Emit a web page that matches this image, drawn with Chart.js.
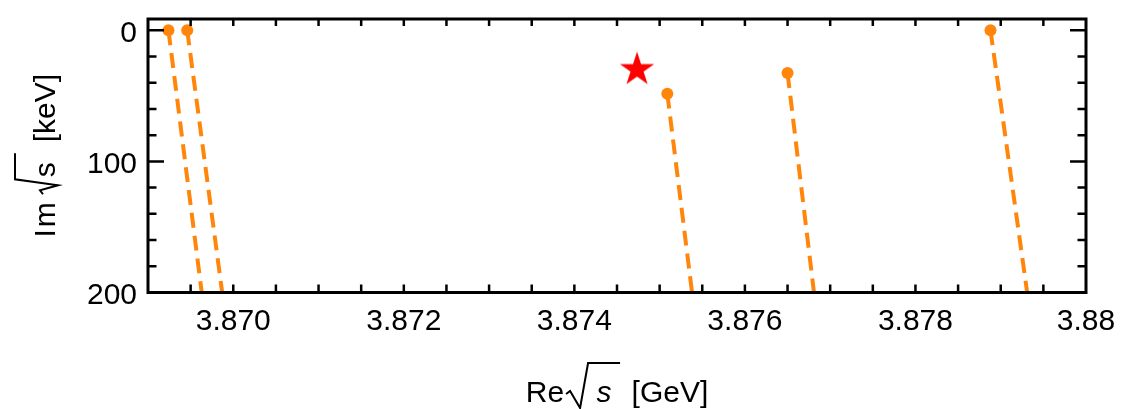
<!DOCTYPE html>
<html>
<head>
<meta charset="utf-8">
<title>Pole trajectories</title>
<script src="https://cdn.jsdelivr.net/npm/chart.js@4.4.1/dist/chart.umd.min.js"></script>
<style>
  html, body { margin: 0; padding: 0; background: #fff; }
  canvas { display: block; }
</style>
</head>
<body>
<canvas id="poleChart" width="1122" height="409"></canvas>
<script>
// pole positions: Re sqrt(s) in GeV, Im sqrt(s) in keV
const poleRe = [3.86924, 3.86946, 3.87509, 3.87650, 3.87888];
const poleIm = [0, 0, 48.4, 32.6, 0];
// where each trajectory leaves the frame
const trajEndRe = [3.86963, 3.86987, 3.87538, 3.87681, 3.87931];
const trajEndIm = [200, 200, 200, 200, 200];
// red star
const starRe = [3.874735];
const starIm = [30];

// axes
const xRange = [3.869, 3.880];
const yRange = [-8.6, 200];
const xTickValues = [3.870, 3.872, 3.874, 3.876, 3.878, 3.880];
const xTickLabels = ["3.870", "3.872", "3.874", "3.876", "3.878", "3.88"];
const xMinorStep = 0.0005;
const yTickValues = [0, 100, 200];
const yTickLabels = ["0", "100", "200"];
const yMinorStep = 20;

const ORANGE = "rgb(255,134,10)";
const FONT = "'Liberation Sans', Arial, Helvetica, sans-serif";
const FS = 30;

// filled 5 point star used as point style
function makeStar(r, color) {
  const size = Math.ceil(r * 2 + 2);
  const c = document.createElement("canvas");
  c.width = size;
  c.height = size;
  const g = c.getContext("2d");
  g.beginPath();
  for (let i = 0; i < 10; i++) {
    const rad = i % 2 === 0 ? r : r * 0.382;
    const a = -Math.PI / 2 + i * Math.PI / 5;
    g.lineTo(size / 2 + rad * Math.cos(a), size / 2 + rad * Math.sin(a));
  }
  g.closePath();
  g.fillStyle = color;
  g.fill();
  return c;
}

// frame with inward ticks on all four sides
const frameAndTicks = {
  id: "frameAndTicks",
  afterDraw(chart) {
    const { ctx, chartArea: a, scales: { x, y } } = chart;
    ctx.save();
    ctx.strokeStyle = "#000";
    ctx.lineWidth = 2.5;
    ctx.beginPath();
    const nx = Math.round((xRange[1] - xRange[0]) / xMinorStep);
    for (let i = 1; i < nx; i++) {
      const px = x.getPixelForValue(xRange[0] + i * xMinorStep);
      ctx.moveTo(px, a.bottom); ctx.lineTo(px, a.bottom - 8);
      ctx.moveTo(px, a.top); ctx.lineTo(px, a.top + 7);
    }
    for (let v = 0; v <= 200; v += yMinorStep) {
      const py = y.getPixelForValue(v);
      const len = v % 100 === 0 ? 16 : 8.5;
      ctx.moveTo(a.left, py); ctx.lineTo(a.left + len, py);
      ctx.moveTo(a.right, py); ctx.lineTo(a.right - len, py);
    }
    ctx.stroke();
    ctx.lineWidth = 3;
    ctx.strokeRect(a.left, a.top, a.right - a.left, a.bottom - a.top);
    ctx.restore();
  }
};

// "Re sqrt(s) [GeV]" style titles, radical drawn by hand
function drawRadicalTitle(ctx, prefix, suffix, italicS, geo) {
  const plain = FS + "px " + FONT;
  const sFont = (italicS ? "italic " : "") + plain;
  ctx.font = plain;
  ctx.letterSpacing = geo.preSpacing + "px";
  const wPre = ctx.measureText(prefix).width;
  ctx.letterSpacing = "0px";
  const wSuf = ctx.measureText(suffix).width;
  const total = wPre + geo.gap + geo.sufAt + wSuf;
  const x0 = -total / 2;
  ctx.fillStyle = "#000";
  ctx.textBaseline = "alphabetic";
  ctx.textAlign = "left";
  ctx.letterSpacing = geo.preSpacing + "px";
  ctx.fillText(prefix, x0, 0);
  ctx.letterSpacing = "0px";
  const rx = x0 + wPre + geo.gap;
  ctx.strokeStyle = "#000";
  ctx.lineWidth = 2;
  ctx.lineJoin = "miter";
  ctx.beginPath();
  geo.path.forEach(([u, v], i) => (i ? ctx.lineTo(rx + u, v) : ctx.moveTo(rx + u, v)));
  ctx.stroke();
  ctx.font = sFont;
  ctx.fillText("s", rx + geo.sAt, 0);
  ctx.font = plain;
  ctx.fillText(suffix, rx + geo.sufAt, 0);
}

const axisTitles = {
  id: "axisTitles",
  afterDraw(chart) {
    const { ctx, chartArea: a } = chart;
    ctx.save();
    ctx.translate((a.left + a.right) / 2, 402);
    drawRadicalTitle(ctx, "Re", "[GeV]", true, {
      preSpacing: 0, gap: 2, sAt: 30.5, sufAt: 65.5,
      path: [[0, -8], [4, -11], [14, 6], [22, -39], [54, -39]]
    });
    ctx.restore();
    ctx.save();
    ctx.translate(55, (a.top + a.bottom) / 2);
    ctx.rotate(-Math.PI / 2);
    drawRadicalTitle(ctx, "Im", "[keV]", false, {
      preSpacing: 2, gap: 6, sAt: 17, sufAt: 52,
      path: [[0, -12], [4, -15], [9, 3], [15, -40], [41, -40]]
    });
    ctx.restore();
  }
};

const trajectories = poleRe.map((re, i) => ({
  data: [{ x: re, y: poleIm[i] }, { x: trajEndRe[i], y: trajEndIm[i] }],
  showLine: true,
  borderColor: ORANGE,
  borderWidth: 4,
  borderDash: [15, 8],
  borderCapStyle: "butt",
  pointRadius: [6, 0],
  pointBackgroundColor: ORANGE,
  pointBorderColor: ORANGE,
  pointBorderWidth: 0
}));

const star = {
  data: starRe.map((re, i) => ({ x: re, y: starIm[i] })),
  pointStyle: makeStar(18, "#ff0000"),
  pointRadius: 18
};

new Chart(document.getElementById("poleChart"), {
  type: "scatter",
  data: { datasets: [star, ...trajectories] },
  options: {
    responsive: false,
    animation: false,
    layout: { padding: { top: 12.5, right: 36, left: 0, bottom: 0 } },
    plugins: { legend: { display: false }, tooltip: { enabled: false } },
    scales: {
      x: {
        type: "linear",
        min: xRange[0],
        max: xRange[1],
        afterBuildTicks: s => { s.ticks = xTickValues.map(v => ({ value: v })); },
        afterFit: s => { s.height = 116.5; s.paddingLeft = 0; s.paddingRight = 0; },
        grid: { display: false, drawTicks: false },
        border: { display: false },
        ticks: {
          padding: 11,
          color: "#000",
          font: { family: FONT, size: FS },
          maxRotation: 0,
          autoSkip: false,
          callback: (v, i) => xTickLabels[i]
        }
      },
      y: {
        type: "linear",
        reverse: true,
        min: yRange[0],
        max: yRange[1],
        afterBuildTicks: s => { s.ticks = yTickValues.map(v => ({ value: v })); },
        afterFit: s => { s.width = 148; s.paddingTop = 0; s.paddingBottom = 0; },
        grid: { display: false, drawTicks: false },
        border: { display: false },
        ticks: {
          padding: 11,
          labelOffset: 3,
          color: "#000",
          font: { family: FONT, size: FS, lineHeight: 0.7 },
          autoSkip: false,
          callback: (v, i) => yTickLabels[i]
        }
      }
    }
  },
  plugins: [frameAndTicks, axisTitles]
});
</script>
</body>
</html>
